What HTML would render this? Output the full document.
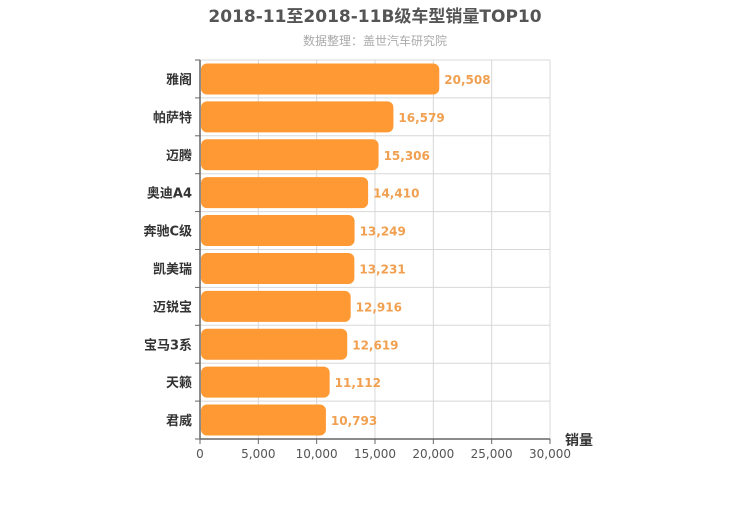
<!DOCTYPE html>
<html><head><meta charset="utf-8"><style>
body{margin:0;background:#fff;}
svg text{font-family:"DejaVu Sans","Noto Sans CJK SC",sans-serif;}
</style></head><body>
<svg id="chart" width="750" height="500" xmlns="http://www.w3.org/2000/svg">
<text x="375" y="22" text-anchor="middle" font-size="17" font-weight="bold" fill="#555">2018-11至2018-11B级车型销量TOP10</text>
<text x="375" y="45" text-anchor="middle" font-size="12" fill="#aaa">数据整理：盖世汽车研究院</text>
<g id="grid"></g>
<g id="bars"></g>
<g id="axes"></g>
<text x="565" y="445" font-size="14" font-weight="bold" fill="#333">销量</text>
</svg>
<script>
const categories=["雅阁","帕萨特","迈腾","奥迪A4","奔驰C级","凯美瑞","迈锐宝","宝马3系","天籁","君威"];
const values=[20508,16579,15306,14410,13249,13231,12916,12619,11112,10793];
const ticks=[0,5000,10000,15000,20000,25000,30000];
const NS="http://www.w3.org/2000/svg";
const x0=200,x1=550,y0=60,y1=439,xmax=30000;
const xs=v=>x0+v/xmax*(x1-x0);
const rowH=(y1-y0)/categories.length;
function mk(t,a,p){const e=document.createElementNS(NS,t);for(const k in a)e.setAttribute(k,a[k]);p.appendChild(e);return e;}
const fmt=v=>v.toLocaleString('en-US');
const grid=document.getElementById('grid'),bars=document.getElementById('bars'),axes=document.getElementById('axes');
ticks.forEach(t=>{
 const l=mk('line',{x1:xs(t),x2:xs(t),y1:y0,y2:y1,stroke:'#d8d8d8'},grid);
 
 
 const k=mk('line',{x1:xs(t),x2:xs(t),y1:y1,y2:y1+5,stroke:'#666'},axes);
 
 
 const tx=mk('text',{x:xs(t),y:y1+19,'text-anchor':'middle','font-size':12,fill:'#555'},axes);
 tx.textContent=fmt(t);
 
 
});
for(let i=0;i<=categories.length;i++){
 const y=y0+i*rowH;
 const g=mk('line',{x1:x0,x2:x1,y1:y,y2:y,stroke:'#d8d8d8'},grid);
 
 
 const k=mk('line',{x1:x0-5,x2:x0,y1:y,y2:y,stroke:'#666'},axes);
 
 
}
mk('line',{x1:x0,x2:x0,y1:y0,y2:y1,stroke:'#666','stroke-width':1.5},axes);
mk('line',{x1:x0,x2:x1,y1:y1,y2:y1,stroke:'#666','stroke-width':1.5},axes);
categories.forEach((c,i)=>{
 const yc=y0+(i+0.5)*rowH;
 const r=mk('rect',{x:x0+1,y:yc-15.5,width:xs(values[i])-x0-1,height:31,rx:6,fill:'#ff9933'},bars);
 
 
 const v=mk('text',{x:xs(values[i])+5,y:yc+5,'font-size':12,'font-weight':'bold',fill:'#f0a050'},bars);
 v.textContent=fmt(values[i]);
 
 
 const t=mk('text',{x:x0-8,y:yc+5,'text-anchor':'end','font-size':13,'font-weight':'bold',fill:'#333'},axes);
 t.textContent=c;
 
 
});
</script>
</body></html>
